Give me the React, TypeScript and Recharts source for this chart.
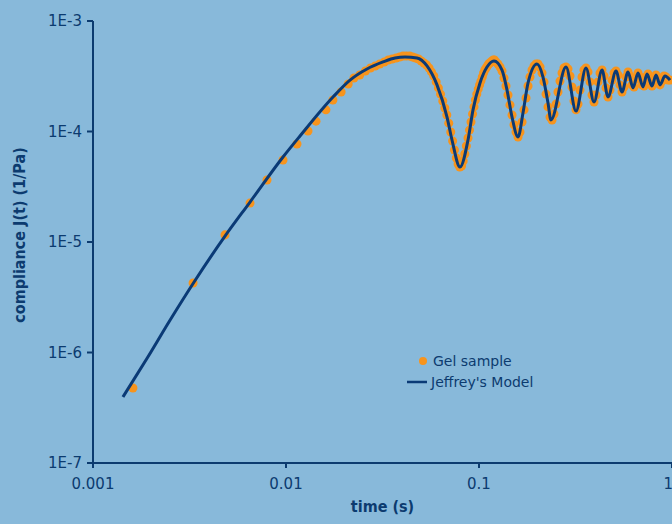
import React from "react";
import {
  ComposedChart,
  Line,
  Scatter,
  XAxis,
  YAxis,
  Legend,
} from "recharts";

// Jeffrey's model curve (t in s, J in 1/Pa)
const lineTime = [
  0.00143, 0.00191, 0.00251, 0.00334, 0.00483, 0.00651, 0.00965, 0.01182,
  0.01752, 0.02146, 0.02628, 0.03181, 0.03672, 0.04136, 0.04773, 0.05378, 0.06059,
  0.06827, 0.07246, 0.07973, 0.0877, 0.0931, 0.1012, 0.11, 0.1196, 0.1316,
  0.1397, 0.1483, 0.1593, 0.169, 0.1795, 0.1998, 0.2146, 0.2278, 0.236,
  0.2823, 0.3181, 0.3584, 0.3944, 0.4339, 0.4661, 0.5126, 0.5507, 0.5916,
  0.6281, 0.6666, 0.7073, 0.7423, 0.7878, 0.8263, 0.8667, 0.9198, 0.9763,
];
const lineJ = [
  3.96e-7, 8.92e-7, 1.97e-6, 4.35e-6, 1.13e-5, 2.3e-5, 5.88e-5, 9.11e-5,
  2.05e-4, 2.92e-4, 3.68e-4, 4.26e-4, 4.63e-4, 4.72e-4, 4.63e-4, 3.92e-4, 2.64e-4,
  1.35e-4, 8.38e-5, 4.77e-5, 8.38e-5, 1.57e-4, 2.75e-4, 3.83e-4, 4.35e-4, 3.6e-4,
  2.37e-4, 1.35e-4, 8.92e-5, 1.47e-4, 2.75e-4, 4.08e-4, 3.11e-4, 1.81e-4, 1.27e-4,
  3.83e-4, 1.53e-4, 3.76e-4, 1.85e-4, 3.6e-4, 2.05e-4, 3.53e-4, 2.28e-4, 3.46e-4,
  2.48e-4, 3.38e-4, 2.53e-4, 3.31e-4, 2.58e-4, 3.25e-4, 2.64e-4, 3.18e-4, 2.92e-4,
];

// Gel sample measurements
const gelTime = [
  0.00161, 0.0033, 0.00483, 0.00651, 0.00797, 0.00965, 0.0114, 0.013, 0.0143,
  0.0161, 0.0175, 0.0193, 0.021, 0.0225,
  0.0241, 0.0258, 0.0274, 0.029, 0.0306, 0.0323, 0.0339, 0.0355, 0.0372, 0.0388,
  0.0404, 0.042, 0.0437, 0.0453, 0.0469, 0.0486, 0.0502, 0.0518, 0.0535, 0.0551,
  0.0567, 0.0583, 0.06, 0.0616, 0.0632, 0.0649, 0.0665, 0.0681, 0.0697, 0.0714,
  0.073, 0.0746, 0.0763, 0.0779, 0.0795, 0.0812, 0.0828, 0.0844, 0.086, 0.0877,
  0.0893, 0.0909, 0.0926, 0.0942, 0.0958, 0.0974, 0.0991, 0.1007, 0.1023, 0.104,
  0.1056, 0.1072, 0.1088, 0.1105, 0.1121, 0.1137, 0.1154, 0.117, 0.1186, 0.1202,
  0.1225, 0.1254, 0.1285, 0.1316, 0.1347, 0.138, 0.1413, 0.1447, 0.1483, 0.1518, 0.1555, 0.1593,
  0.1631, 0.1671, 0.1711, 0.1752, 0.1795, 0.1837, 0.1882, 0.1928, 0.1974,
  0.2022, 0.2071, 0.2121, 0.2172, 0.2225, 0.2278, 0.2333, 0.2389,
  0.2447, 0.2506, 0.2566, 0.2628, 0.2692, 0.2756, 0.2823,
  0.2891, 0.2961, 0.3032, 0.3106, 0.3181,
  0.3258, 0.3337, 0.3417, 0.3499, 0.3584,
  0.3671, 0.3759, 0.385, 0.3944,
  0.4039, 0.4136, 0.4237, 0.4339,
  0.4444, 0.455, 0.4661,
  0.4773, 0.4888, 0.5006, 0.5126,
  0.5251, 0.5378, 0.5507,
  0.564, 0.5777, 0.5916,
  0.6059, 0.6205, 0.6355,
  0.6509, 0.6666,
  0.6827, 0.6992, 0.716,
  0.7333, 0.751,
  0.7691, 0.7878,
  0.8067, 0.8263,
  0.8463, 0.8667,
  0.8876, 0.9091,
  0.9308, 0.9535, 0.9763,
];
const gelJ = [
  4.77e-7, 4.26e-6, 1.16e-5, 2.25e-5, 3.64e-5, 5.52e-5, 7.71e-5, 1.01e-4, 1.24e-4,
  1.57e-4, 1.93e-4, 2.28e-4, 2.69e-4, 3.05e-4,
  3.25e-4, 3.53e-4, 3.76e-4, 3.92e-4, 4.08e-4, 4.26e-4, 4.44e-4, 4.53e-4, 4.63e-4, 4.72e-4,
  4.82e-4, 4.82e-4, 4.82e-4, 4.72e-4, 4.63e-4, 4.53e-4, 4.35e-4, 4.17e-4, 4.0e-4, 3.76e-4,
  3.46e-4, 3.18e-4, 2.81e-4, 2.48e-4, 2.18e-4, 1.89e-4, 1.63e-4, 1.41e-4, 1.19e-4, 9.9e-5,
  8.2e-5, 6.8e-5, 5.76e-5, 5.08e-5, 4.77e-5, 4.87e-5, 5.41e-5, 6.26e-5, 7.39e-5, 8.73e-5,
  1.03e-4, 1.22e-4, 1.44e-4, 1.67e-4, 1.93e-4, 2.18e-4, 2.42e-4, 2.64e-4, 2.86e-4, 3.11e-4,
  3.38e-4, 3.6e-4, 3.76e-4, 3.92e-4, 4.08e-4, 4.17e-4, 4.26e-4, 4.35e-4, 4.44e-4, 4.44e-4,
  4.26e-4, 4.08e-4, 3.83e-4, 3.53e-4, 3.05e-4, 2.58e-4, 2.14e-4, 1.74e-4, 1.41e-4, 1.15e-4, 9.9e-5, 8.92e-5,
  9.9e-5, 1.22e-4, 1.57e-4, 2.01e-4, 2.58e-4, 3.11e-4, 3.6e-4, 3.92e-4, 4.08e-4,
  4.08e-4, 3.83e-4, 3.38e-4, 2.81e-4, 2.18e-4, 1.67e-4, 1.35e-4, 1.27e-4,
  1.44e-4, 1.77e-4, 2.28e-4, 2.86e-4, 3.38e-4, 3.76e-4, 3.83e-4,
  3.68e-4, 3.18e-4, 2.53e-4, 1.89e-4, 1.57e-4,
  1.77e-4, 2.37e-4, 3.11e-4, 3.6e-4, 3.76e-4,
  3.46e-4, 2.81e-4, 2.14e-4, 1.85e-4,
  2.14e-4, 2.81e-4, 3.38e-4, 3.6e-4,
  3.18e-4, 2.48e-4, 2.05e-4,
  2.37e-4, 2.92e-4, 3.38e-4, 3.53e-4,
  3.25e-4, 2.64e-4, 2.28e-4,
  2.53e-4, 3.11e-4, 3.46e-4,
  3.18e-4, 2.64e-4, 2.53e-4,
  2.99e-4, 3.38e-4,
  3.11e-4, 2.64e-4, 2.58e-4,
  3.11e-4, 3.31e-4,
  2.92e-4, 2.58e-4,
  2.86e-4, 3.25e-4,
  2.99e-4, 2.64e-4,
  2.86e-4, 3.18e-4,
  3.11e-4, 2.92e-4, 2.92e-4,
];

const xTicks = [0.001, 0.01, 0.1, 1];
const xTickLabels = ["0.001", "0.01", "0.1", "1"];
const yTicks = [1e-7, 1e-6, 1e-5, 1e-4, 1e-3];
const yTickLabels = ["1E-7", "1E-6", "1E-5", "1E-4", "1E-3"];

const lineData = lineTime.map((t, i) => ({ t, J: lineJ[i] }));
const gelData = gelTime.map((t, i) => ({ t, J: gelJ[i] }));

const bg = "#88b9da";
const navy = "#0c3b6f";
const lineColor = "#0a3a76";
const orange = "#f7941d";
const tickFont = "'DejaVu Sans', sans-serif";
const titleFont = "'DejaVu Sans Condensed', 'DejaVu Sans', sans-serif";

const renderLegend = (props: any) => {
  const { payload } = props;
  return (
    <div style={{ fontFamily: tickFont, fontSize: 14, color: navy }}>
      {payload.map((entry: any, i: number) => (
        <div key={i} style={{ display: "flex", alignItems: "center", height: 21 }}>
          <svg width={24} height={12}>
            {entry.type === "circle" ? (
              <circle cx={17} cy={6} r={4} fill={entry.color} />
            ) : (
              <line x1={1} x2={21} y1={6} y2={6} stroke={entry.color} strokeWidth={2.5} />
            )}
          </svg>
          <span style={{ marginLeft: entry.type === "circle" ? 3 : 1, whiteSpace: "nowrap" }}>
            {entry.value}
          </span>
        </div>
      ))}
    </div>
  );
};

const renderXTitle = (props: any) => {
  const { viewBox } = props;
  return (
    <text
      x={viewBox.x + viewBox.width / 2}
      y={viewBox.y + 49}
      textAnchor="middle"
      fill={navy}
      fontFamily={titleFont}
      fontWeight="bold"
      fontSize={16}
    >
      time (s)
    </text>
  );
};

const renderYTitle = (props: any) => {
  const { viewBox } = props;
  const cx = viewBox.x + 19;
  const cy = viewBox.y + viewBox.height / 2 - 7;
  return (
    <text
      x={cx}
      y={cy}
      transform={`rotate(-90 ${cx} ${cy})`}
      textAnchor="middle"
      dominantBaseline="central"
      fill={navy}
      fontFamily={titleFont}
      fontWeight="bold"
      fontSize={16}
    >
      compliance J(t) (1/Pa)
    </text>
  );
};

export default function App() {
  return (
    <div
      style={{
        position: "absolute",
        left: 0,
        top: 0,
        width: 672,
        height: 524,
        background: bg,
        overflow: "hidden",
      }}
    >
      <ComposedChart
        width={672}
        height={524}
        margin={{ top: 21, right: 0, bottom: 0, left: 0 }}
      >
        <XAxis
          type="number"
          dataKey="t"
          scale="log"
          domain={[0.001, 1]}
          ticks={xTicks}
          tickFormatter={(v: number) => xTickLabels[xTicks.indexOf(v)]}
          allowDataOverflow
          height={61}
          axisLine={{ stroke: navy, strokeWidth: 2 }}
          tickLine={{ stroke: navy, strokeWidth: 2 }}
          tickSize={5}
          tickMargin={10}
          tick={{ fill: navy, fontFamily: tickFont, fontSize: 15 }}
          label={{ content: renderXTitle }}
        />
        <YAxis
          type="number"
          dataKey="J"
          scale="log"
          domain={[1e-7, 1e-3]}
          ticks={yTicks}
          tickFormatter={(v: number) => yTickLabels[yTicks.indexOf(v)]}
          allowDataOverflow
          width={93}
          axisLine={{ stroke: navy, strokeWidth: 2 }}
          tickLine={{ stroke: navy, strokeWidth: 2 }}
          tickSize={6}
          tickMargin={5}
          tick={{ fill: navy, fontFamily: tickFont, fontSize: 15 }}
          label={{ content: renderYTitle }}
        />
        <Scatter
          name="Gel sample"
          data={gelData}
          dataKey="J"
          fill={orange}
          shape="circle"
          legendType="circle"
          zIndex={300}
          isAnimationActive={false}
        />
        <Line
          name="Jeffrey's Model"
          data={lineData}
          dataKey="J"
          type="monotone"
          stroke={lineColor}
          strokeWidth={3}
          dot={false}
          activeDot={false}
          legendType="line"
          zIndex={800}
          isAnimationActive={false}
        />
        <Legend
          layout="vertical"
          align="center"
          verticalAlign="middle"
          content={renderLegend}
          wrapperStyle={{ left: 406, top: 350, width: 200 }}
        />
      </ComposedChart>
    </div>
  );
}
